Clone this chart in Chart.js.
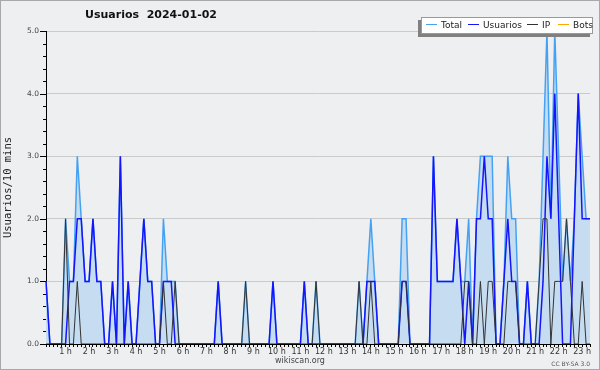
<!DOCTYPE html>
<html>
<head>
<meta charset="utf-8">
<script src="https://cdn.jsdelivr.net/npm/chart.js@4.4.1/dist/chart.umd.min.js"></script>
<style>
  body { margin: 0; background: #eeeff1; }
  #wrap { position: relative; width: 600px; height: 370px; background: #eeeff1; font-family: 'DejaVu Sans', sans-serif; }
  #frame { position: absolute; left: 0; top: 0; width: 600px; height: 370px; box-sizing: border-box; border: 1px solid #a8a8a8; pointer-events: none; }
  #title { position: absolute; left: 51px; width: 200px; top: 8px; text-align: center; font-weight: bold; font-size: 11px; color: #111; white-space: pre; }
  #legend { position: absolute; left: 421px; top: 17px; width: 170px; height: 15px; background: #fff; border: 1px solid #999; box-shadow: -3px 3px 0 #808080; font-size: 9px; color: #222; white-space: nowrap; }
  #legend span.item { position: absolute; top: 2px; }
  #legend i { display: inline-block; width: 11px; height: 0; border-top: 1px solid; vertical-align: middle; margin-right: 4px; position: relative; top: -1px; }
  #site { position: absolute; left: 0; width: 600px; top: 356px; text-align: center; font-size: 8px; color: #444; }
  #lic { position: absolute; right: 10px; top: 360px; font-size: 6px; color: #555; }
</style>
</head>
<body>
<div id="wrap">
  <canvas id="chart" width="600" height="370"></canvas>
  <div id="title">Usuarios  2024-01-02</div>
  <div id="legend"></div>
  <div id="site">wikiscan.org</div>
  <div id="lic">CC BY-SA 3.0</div>
  <div id="frame"></div>
</div>
<script>
// 10-minute buckets, first one ends at 00:10
const categories = [];
for (let k = 0; k < 140; k++) {
    const m = (k + 1) * 10;
    categories.push(String(Math.floor(m / 60)).padStart(2, '0') + ':' + String(m % 60).padStart(2, '0'));
}

const hourLabels = ['1 h', '2 h', '3 h', '4 h', '5 h', '6 h', '7 h', '8 h', '9 h', '10 h', '11 h', '12 h',
    '13 h', '14 h', '15 h', '16 h', '17 h', '18 h', '19 h', '20 h', '21 h', '22 h', '23 h'];

const yTicks = [0, 1, 2, 3, 4, 5];

const total = [
    1, 0, 0, 0, 0, 2, 1, 1, 3, 2,
    1, 1, 2, 1, 1, 0, 0, 1, 0, 3,
    0, 1, 0, 0, 1, 2, 1, 1, 0, 0,
    2, 1, 1, 1, 0, 0, 0, 0, 0, 0,
    0, 0, 0, 0, 1, 0, 0, 0, 0, 0,
    0, 1, 0, 0, 0, 0, 0, 0, 1, 0,
    0, 0, 0, 0, 0, 0, 1, 0, 0, 1,
    0, 0, 0, 0, 0, 0, 0, 0, 0, 0,
    1, 0, 1, 2, 1, 0, 0, 0, 0, 0,
    0, 2, 2, 0, 0, 0, 0, 0, 0, 3,
    1, 1, 1, 1, 1, 2, 1, 1, 2, 0,
    2, 3, 3, 3, 3, 0, 0, 1, 3, 2,
    2, 0, 0, 1, 0, 0, 1, 3, 5, 2,
    5, 3, 1, 2, 1, 2, 4, 3, 2, 2
];

const usuarios = [
    1, 0, 0, 0, 0, 0, 1, 1, 2, 2,
    1, 1, 2, 1, 1, 0, 0, 1, 0, 3,
    0, 1, 0, 0, 1, 2, 1, 1, 0, 0,
    1, 1, 1, 0, 0, 0, 0, 0, 0, 0,
    0, 0, 0, 0, 1, 0, 0, 0, 0, 0,
    0, 0, 0, 0, 0, 0, 0, 0, 1, 0,
    0, 0, 0, 0, 0, 0, 1, 0, 0, 0,
    0, 0, 0, 0, 0, 0, 0, 0, 0, 0,
    0, 0, 1, 1, 1, 0, 0, 0, 0, 0,
    0, 1, 1, 0, 0, 0, 0, 0, 0, 3,
    1, 1, 1, 1, 1, 2, 1, 0, 1, 0,
    2, 2, 3, 2, 2, 0, 0, 1, 2, 1,
    1, 0, 0, 1, 0, 0, 0, 1, 3, 2,
    4, 2, 0, 0, 0, 2, 4, 2, 2, 2
];

const ip = [
    0, 0, 0, 0, 0, 2, 0, 0, 1, 0,
    0, 0, 0, 0, 0, 0, 0, 0, 0, 0,
    0, 0, 0, 0, 0, 0, 0, 0, 0, 0,
    1, 0, 0, 1, 0, 0, 0, 0, 0, 0,
    0, 0, 0, 0, 0, 0, 0, 0, 0, 0,
    0, 1, 0, 0, 0, 0, 0, 0, 0, 0,
    0, 0, 0, 0, 0, 0, 0, 0, 0, 1,
    0, 0, 0, 0, 0, 0, 0, 0, 0, 0,
    1, 0, 0, 1, 0, 0, 0, 0, 0, 0,
    0, 1, 1, 0, 0, 0, 0, 0, 0, 0,
    0, 0, 0, 0, 0, 0, 0, 1, 1, 0,
    0, 1, 0, 1, 1, 0, 0, 0, 1, 1,
    1, 0, 0, 0, 0, 0, 1, 2, 2, 0,
    1, 1, 1, 2, 1, 0, 0, 1, 0, 0
];

const bots = [
    0, 0, 0, 0, 0, 0, 0, 0, 0, 0, 0, 0, 0, 0, 0, 0, 0, 0, 0, 0,
    0, 0, 0, 0, 0, 0, 0, 0, 0, 0, 0, 0, 0, 0, 0, 0, 0, 0, 0, 0,
    0, 0, 0, 0, 0, 0, 0, 0, 0, 0, 0, 0, 0, 0, 0, 0, 0, 0, 0, 0,
    0, 0, 0, 0, 0, 0, 0, 0, 0, 0, 0, 0, 0, 0, 0, 0, 0, 0, 0, 0,
    0, 0, 0, 0, 0, 0, 0, 0, 0, 0, 0, 0, 0, 0, 0, 0, 0, 0, 0, 0,
    0, 0, 0, 0, 0, 0, 0, 0, 0, 0, 0, 0, 0, 0, 0, 0, 0, 0, 0, 0,
    0, 0, 0, 0, 0, 0, 0, 0, 0, 0, 0, 0, 0, 0, 0, 0, 0, 0, 0, 0
];

const series = [
    { label: 'Total', data: total, color: '#45a2f2' },
    { label: 'Usuarios', data: usuarios, color: '#1414ff' },
    { label: 'IP', data: ip, color: '#333333' },
    { label: 'Bots', data: bots, color: '#ffa500' }
];

// html legend, jpgraph style box
const legend = document.getElementById('legend');
const legendX = [4, 46, 105, 136];
series.forEach((s, n) => {
    const el = document.createElement('span');
    el.className = 'item';
    el.style.left = legendX[n] + 'px';
    el.innerHTML = '<i style="border-color:' + s.color + '"></i>' + s.label;
    legend.appendChild(el);
});

// minor / major ticks on the y axis
const yTickMarks = {
    id: 'yTickMarks',
    afterDraw(chart) {
        const y = chart.scales.y;
        const ctx = chart.ctx;
        ctx.save();
        ctx.strokeStyle = '#000';
        ctx.lineWidth = 1;
        for (let v = 0; v <= 25; v++) {
            const py = Math.round(y.getPixelForValue(v / 5)) + 0.5;
            const len = v % 5 === 0 ? 6 : 3;
            ctx.beginPath();
            ctx.moveTo(y.right - len, py);
            ctx.lineTo(y.right, py);
            ctx.stroke();
        }
        ctx.restore();
    }
};

new Chart(document.getElementById('chart').getContext('2d'), {
    type: 'line',
    data: {
        labels: categories,
        datasets: [
            { label: 'IP', data: ip, borderColor: '#333333', borderWidth: 1, order: 1 },
            { label: 'Usuarios', data: usuarios, borderColor: '#1414ff', borderWidth: 1.5, order: 2 },
            { label: 'Total', data: total, borderColor: '#45a2f2', borderWidth: 1.5,
              backgroundColor: '#c6dcf0', fill: 'origin', order: 3 },
            { label: 'Bots', data: bots, borderColor: '#ffa500', borderWidth: 1, order: 4 }
        ]
    },
    options: {
        responsive: false,
        animation: false,
        devicePixelRatio: 1,
        layout: { padding: { left: 0, top: 31, right: 10, bottom: 0 } },
        elements: { point: { radius: 0 }, line: { tension: 0 } },
        plugins: { legend: { display: false }, tooltip: { enabled: false } },
        scales: {
            x: {
                z: 1,
                afterFit: s => { s.height = 26; },
                grid: { drawOnChartArea: false, drawTicks: true, tickLength: 3, tickColor: '#000' },
                border: { display: true, color: '#000' },
                ticks: {
                    autoSkip: false,
                    maxRotation: 0,
                    padding: 0,
                    color: '#333',
                    font: { family: 'DejaVu Sans', size: 8 },
                    callback: (v, idx) => (idx + 1) % 6 === 0 ? hourLabels[(idx + 1) / 6 - 1] || '' : ''
                }
            },
            y: {
                min: 0,
                max: 5,
                afterFit: s => { s.width = 46; },
                afterBuildTicks: s => { s.ticks = yTicks.map(v => ({ value: v })); },
                grid: { color: '#cacaca', drawTicks: false },
                border: { display: true, color: '#000' },
                ticks: {
                    padding: 7,
                    color: '#444',
                    font: { family: 'DejaVu Sans', size: 7.5 },
                    callback: v => Number(v).toFixed(1)
                },
                title: {
                    display: true,
                    text: 'Usuarios/10 mins',
                    color: '#222',
                    font: { family: 'DejaVu Sans Mono', size: 10.5 },
                    padding: { top: 2, bottom: 0 }
                }
            }
        }
    },
    plugins: [yTickMarks]
});
</script>
</body>
</html>
